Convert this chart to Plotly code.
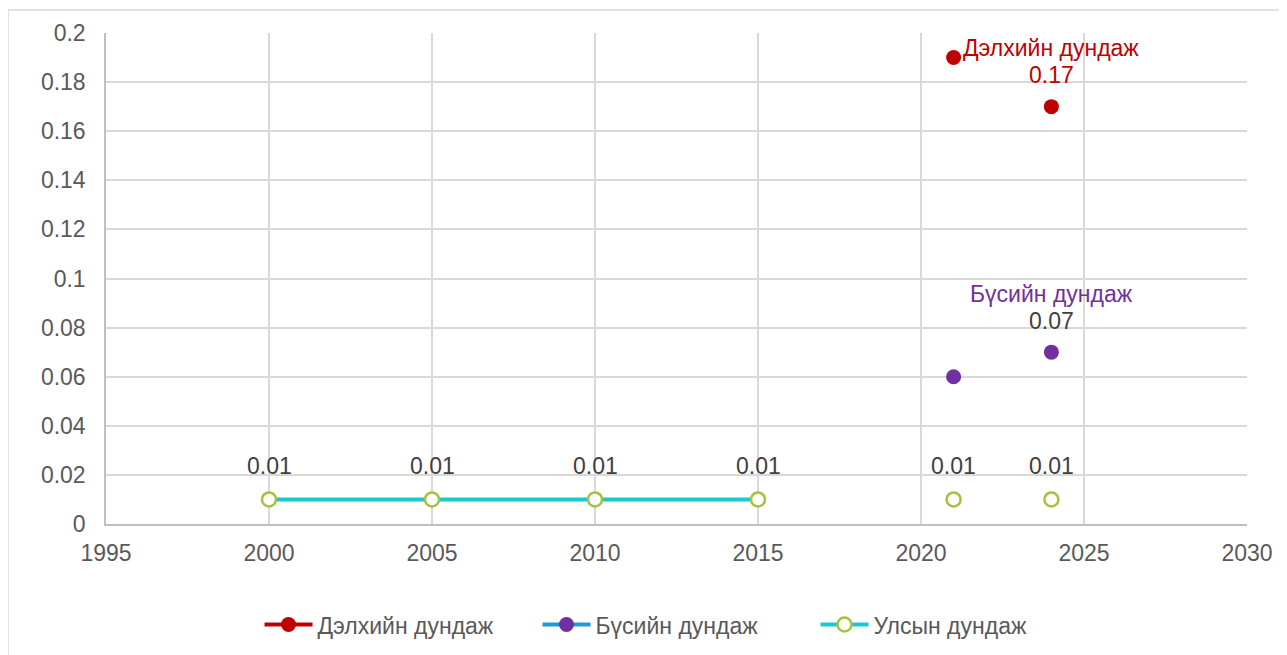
import plotly.graph_objects as go

# ---- data ----
world_name = "Дэлхийн дундаж"
world_years = [2021, 2024]
world_values = [0.19, 0.17]

region_name = "Бүсийн дундаж"
region_years = [2021, 2024]
region_values = [0.06, 0.07]

national_name = "Улсын дундаж"
national_years = [2000, 2005, 2010, 2015, 2021, 2024]
national_values = [0.01, 0.01, 0.01, 0.01, 0.01, 0.01]
national_connected = [True, True, True, True, False, False]  # connected to previous point

x_ticks = [1995, 2000, 2005, 2010, 2015, 2020, 2025, 2030]
y_ticks = [0, 0.02, 0.04, 0.06, 0.08, 0.1, 0.12, 0.14, 0.16, 0.18, 0.2]


def with_gaps(xs, ys, conn):
    ox, oy = [], []
    for i, (a, b) in enumerate(zip(xs, ys)):
        if i > 0 and not conn[i]:
            ox.append(None)
            oy.append(None)
        ox.append(a)
        oy.append(b)
    return ox, oy


FONT = "Liberation Sans, Arial, sans-serif"
GRAY = "#595959"
DARK = "#404040"
RED = "#c00000"
PURPLE = "#7030a0"
BLUE = "#1f9ad6"
CYAN = "#17c9d3"
GREEN = "#a5c23f"
FS = 23

W, H = 1287, 655
L, R, T, B = 98, 48, 23, 139
PW, PH = W - L - R, H - T - B

fig = go.Figure()

wx, wy = with_gaps(world_years, world_values, [True, False])
fig.add_trace(go.Scatter(
    x=wx, y=wy, name=world_name, mode="lines+markers",
    line=dict(color=RED, width=4),
    marker=dict(color=RED, size=15),
    connectgaps=False,
))

rx, ry = with_gaps(region_years, region_values, [True, False])
fig.add_trace(go.Scatter(
    x=rx, y=ry, name=region_name, mode="lines+markers",
    line=dict(color=BLUE, width=4),
    marker=dict(color=PURPLE, size=15),
    connectgaps=False,
))

nx, ny = with_gaps(national_years, national_values, national_connected)
fig.add_trace(go.Scatter(
    x=nx, y=ny, name=national_name, mode="lines+markers",
    line=dict(color=CYAN, width=4),
    marker=dict(color="white", size=14, line=dict(color=GREEN, width=2.5)),
    connectgaps=False,
))

annotations = []


def label(x, y, text, color, shift):
    annotations.append(dict(x=x, y=y, xref="x", yref="y", text=text, showarrow=False,
                            yanchor="middle", xanchor="center", yshift=shift,
                            font=dict(family=FONT, size=FS, color=color)))


# world: name + value above the last point
label(world_years[-1], world_values[-1], world_name, RED, 59)
label(world_years[-1], world_values[-1], f"{world_values[-1]:g}", RED, 32)
# region: name + value above the last point
label(region_years[-1], region_values[-1], region_name, PURPLE, 58)
label(region_years[-1], region_values[-1], f"{region_values[-1]:g}", DARK, 31)
# national: values above every point
for xv, yv in zip(national_years, national_values):
    label(xv, yv, f"{yv:g}", DARK, 33)

fig.update_layout(
    width=W, height=H,
    margin=dict(l=L, r=R, t=T, b=B),
    paper_bgcolor="white", plot_bgcolor="white",
    font=dict(family=FONT, size=FS, color=GRAY),
    showlegend=True,
    annotations=annotations,
    legend=dict(orientation="h", x=0.5, xanchor="center",
                y=(PH - (617 - T)) / PH, yanchor="middle",
                font=dict(family=FONT, size=FS, color=GRAY),
                itemwidth=48, entrywidth=215, entrywidthmode="pixels",
                traceorder="normal"),
    xaxis=dict(range=[1995, 2030], tickvals=x_ticks, showgrid=True,
               gridcolor="#d9d9d9", gridwidth=1.5, zeroline=False,
               showline=True, linecolor="#bfbfbf", linewidth=1.5,
               ticks="", ticklabelstandoff=8,
               tickfont=dict(size=FS, color=GRAY)),
    yaxis=dict(range=[0, 0.2], tickvals=y_ticks, showgrid=True,
               gridcolor="#d9d9d9", gridwidth=1.5, zeroline=False,
               showline=True, linecolor="#bfbfbf", linewidth=1.5,
               ticks="", ticklabelstandoff=14,
               tickfont=dict(size=FS, color=GRAY)),
    shapes=[dict(type="rect", xref="paper", yref="paper",
                 x0=(0 - L) / PW, x1=(W + 10 - L) / PW,
                 y0=(PH + T - H - 10) / PH, y1=(PH + T) / PH,
                 line=dict(color="#d9d9d9", width=1.5), layer="below")],
)

fig.write_html("out.html")
